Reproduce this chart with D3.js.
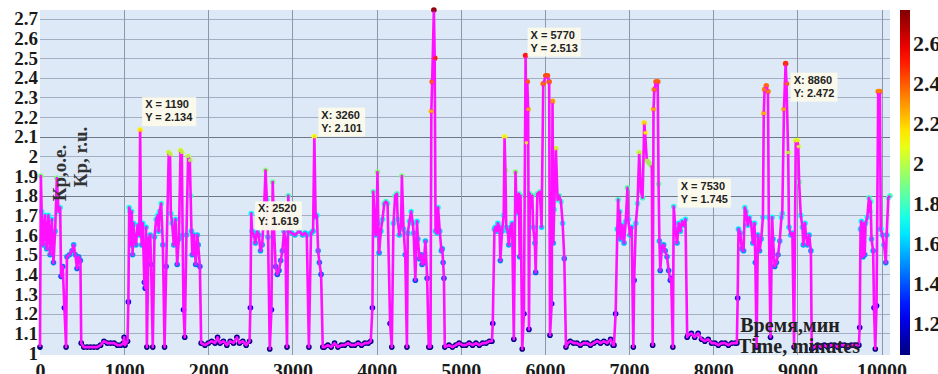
<!DOCTYPE html>
<html>
<head>
<meta charset="utf-8">
<script src="https://cdn.jsdelivr.net/npm/d3@7"></script>
<style>
  body { margin: 0; background: #fff; }
  svg text { font-family: "Liberation Serif", "Times New Roman", serif; font-weight: bold; }
  .tip text { font-family: "Liberation Sans", Arial, sans-serif; font-size: 11px; fill: #222; }
</style>
</head>
<body>
<svg id="chart" width="938" height="374"></svg>
<script>
// Kp value over time (minutes)
const TIME_MIN = [
  0, 10, 20, 40, 60, 80, 100, 120, 140, 160, 180, 200, 220, 240, 250, 270, 290, 310, 320, 350,
  380, 400, 420, 440, 460, 480, 490, 520, 560, 600, 640, 680, 720, 760, 800, 840, 880, 920, 960, 990,
  1000, 1010,
  1040, 1050, 1060, 1070, 1080, 1090, 1100, 1110, 1120, 1140, 1160, 1180, 1190, 1200, 1210, 1220,
  1240, 1250, 1260, 1270, 1290, 1310, 1320, 1340, 1360, 1380, 1400, 1410, 1420, 1440, 1460, 1480,
  1500, 1530, 1545, 1555, 1570, 1590, 1610, 1630, 1650, 1670, 1685, 1695, 1705, 1720, 1740, 1760,
  1780, 1790, 1800, 1810, 1830, 1850, 1870, 1880, 1900, 1915,
  1960, 2000, 2040, 2080, 2110, 2140, 2180, 2220, 2260, 2300, 2340, 2370, 2410, 2450, 2490,
  2500, 2510, 2520, 2540, 2560, 2580, 2600, 2620, 2640, 2660, 2680, 2695, 2710, 2730, 2750, 2765,
  2780, 2800, 2820, 2840, 2860, 2880, 2900, 2915, 2935, 2950, 2965, 2990, 3030, 3080, 3120, 3150,
  3170, 3195, 3220, 3245, 3260, 3275, 3290, 3305, 3320, 3340, 3360,
  3380, 3420, 3460, 3500, 3540, 3580, 3620, 3660, 3700, 3740, 3780, 3820, 3860, 3900, 3930,
  3950, 3960, 3980, 3990, 4000, 4010, 4020, 4030, 4050, 4070, 4090, 4110, 4130, 4160, 4180, 4200,
  4220, 4240, 4250, 4270, 4290, 4300, 4320, 4340, 4360, 4370, 4390, 4410, 4430, 4440, 4460, 4480,
  4490, 4510, 4530, 4540, 4560, 4580, 4600, 4620, 4640, 4650, 4660, 4680, 4690, 4700, 4720, 4730,
  4750, 4770, 4780, 4790, 4800, 4810,
  4860, 4900, 4940, 4980, 5020, 5060, 5100, 5140, 5180, 5220, 5260, 5300, 5340, 5370,
  5380, 5400, 5410, 5430, 5440, 5460, 5470, 5490, 5510, 5520, 5530, 5540, 5560, 5570, 5590, 5610,
  5630, 5650, 5660, 5680, 5690, 5700, 5710, 5730, 5750, 5770, 5780, 5790, 5800, 5810, 5820, 5830,
  5850, 5860, 5880, 5890, 5910, 5940, 5960, 5980, 6010, 6030, 6050, 6060, 6080, 6090, 6100, 6110,
  6130, 6150, 6170, 6190, 6210, 6230, 6250, 6270,
  6300, 6340, 6380, 6420, 6460, 6500, 6540, 6580, 6620, 6660, 6700, 6740, 6780, 6810,
  6820, 6840, 6860, 6870, 6880, 6890, 6900, 6920, 6940, 6960, 6980, 6990, 7010, 7030, 7050, 7060,
  7080, 7100, 7120, 7140, 7160, 7180, 7190, 7210, 7230, 7250, 7270, 7280, 7290, 7300, 7320, 7340,
  7350, 7360, 7370, 7390, 7410, 7430, 7450, 7470, 7490, 7500, 7520, 7530, 7550, 7570, 7590, 7610,
  7630, 7650, 7670, 7690,
  7700, 7740, 7780, 7820, 7860, 7900, 7940, 7980, 8020, 8060, 8100, 8140, 8180, 8220, 8260,
  8280, 8290, 8300, 8320, 8340, 8360, 8375, 8390, 8410, 8430, 8450, 8470, 8490, 8500, 8515, 8530,
  8550, 8570, 8590, 8600, 8610, 8630, 8650, 8660, 8680, 8700, 8710, 8730, 8750, 8770, 8790, 8810,
  8820, 8840, 8860, 8870, 8890, 8900, 8920, 8940, 8960, 8980, 9000, 9010, 9020, 9040, 9060, 9070,
  9090, 9100, 9120, 9140, 9160, 9170,
  9200, 9240, 9280, 9320, 9360, 9400, 9440, 9480, 9520, 9560, 9600, 9640, 9680, 9710,
  9730, 9740, 9750, 9760, 9770, 9780, 9790, 9800, 9810, 9830, 9850, 9860, 9870, 9880, 9900, 9910,
  9925, 9940, 9960, 9980, 9990, 10010, 10030, 10050, 10060, 10080, 10100
];
const KP_VALUE = [
  1.03, 1.90, 1.72, 1.55, 1.70, 1.53, 1.70, 1.50, 1.68, 1.46, 1.62, 1.89, 1.72, 1.74, 1.39, 1.44, 1.23, 1.03, 1.49, 1.50,
  1.52, 1.55, 1.50, 1.43, 1.49, 1.47, 1.05, 1.03, 1.03, 1.03, 1.03, 1.03, 1.04, 1.06, 1.05, 1.05, 1.05, 1.04, 1.04, 1.05,
  1.08, 1.04,
  1.06, 1.26, 1.74, 1.72, 1.55, 1.72, 1.50, 1.66, 1.60, 1.55, 1.65, 1.60, 2.134, 1.62, 1.55, 1.66,
  1.36, 1.33, 1.64, 1.03, 1.58, 1.60, 1.45, 1.03, 1.59, 1.68, 1.70, 1.62, 1.72, 1.76, 1.55, 1.03,
  1.44, 2.02, 2.01, 1.71, 1.66, 1.55, 1.68, 1.45, 1.58, 2.03, 2.02, 1.60, 1.22, 1.08, 1.60, 2.00,
  1.98, 1.80, 1.62, 1.50, 1.60, 1.45, 1.60, 1.55, 1.44, 1.05,
  1.04, 1.05, 1.06, 1.05, 1.08, 1.05, 1.06, 1.04, 1.06, 1.05, 1.08, 1.05, 1.06, 1.04, 1.06,
  1.23, 1.71, 1.619, 1.60, 1.56, 1.62, 1.60, 1.52, 1.55, 1.70, 1.93, 1.78, 1.59, 1.02, 1.22, 1.87,
  1.64, 1.44, 1.40, 1.42, 1.47, 1.52, 1.62, 1.58, 1.03, 1.80, 1.62, 1.61, 1.60, 1.62, 1.60, 1.61,
  1.60, 1.03, 1.61, 1.62, 2.101, 1.69, 1.70, 1.52, 1.46, 1.40, 1.03,
  1.03, 1.04, 1.03, 1.05, 1.03, 1.04, 1.04, 1.05, 1.04, 1.04, 1.05, 1.04, 1.05, 1.05, 1.06,
  1.23, 1.82, 1.66, 1.60, 1.68, 1.92, 1.66, 1.51, 1.62, 1.68, 1.76, 1.77, 1.76, 1.15, 1.03, 1.66,
  1.80, 1.81, 1.68, 1.60, 1.65, 1.90, 1.63, 1.50, 1.03, 1.61, 1.67, 1.72, 1.66, 1.61, 1.37, 1.67,
  1.58, 1.48, 1.50, 1.45, 1.46, 1.57, 1.38, 1.03, 1.03, 2.23, 2.38, 2.745, 2.50, 1.62, 1.61, 1.74,
  1.62, 1.52, 1.53, 1.46, 1.38, 1.03,
  1.04, 1.03, 1.04, 1.05, 1.04, 1.04, 1.05, 1.04, 1.05, 1.04, 1.05, 1.05, 1.06, 1.06,
  1.15, 1.63, 1.64, 1.62, 1.66, 1.64, 1.47, 1.62, 1.70, 2.10, 1.93, 1.64, 1.62, 1.55, 1.64, 1.66,
  1.07, 1.92, 1.78, 1.71, 1.81, 1.49, 1.80, 1.02, 1.20, 2.513, 2.07, 2.38, 2.24, 1.12, 1.81, 1.74,
  1.80, 1.64, 1.56, 1.41, 1.81, 1.82, 1.64, 2.37, 2.41, 2.41, 2.38, 1.09, 1.25, 2.28, 1.56, 1.73,
  2.04, 1.78, 1.80, 1.77, 1.66, 1.48, 1.03, 1.05,
  1.06, 1.05, 1.05, 1.04, 1.05, 1.05, 1.04, 1.05, 1.06, 1.05, 1.06, 1.05, 1.07, 1.04,
  1.04, 1.20, 1.63, 1.78, 1.60, 1.72, 1.58, 1.65, 1.56, 1.67, 1.84, 1.68, 1.60, 1.64, 1.03, 1.37,
  1.66, 1.76, 2.02, 1.82, 1.79, 2.17, 2.12, 1.98, 1.97, 1.96, 1.95, 1.04, 2.24, 2.34, 2.38, 2.38,
  1.86, 1.57, 1.42, 1.54, 1.55, 1.52, 1.49, 1.42, 1.37, 1.38, 1.03, 1.745, 1.63, 1.56, 1.66, 1.62,
  1.67, 1.65, 1.68, 1.08,
  1.09, 1.10, 1.08, 1.10, 1.07, 1.06, 1.07, 1.05, 1.05, 1.04, 1.05, 1.05, 1.04, 1.05, 1.05,
  1.05, 1.28, 1.63, 1.61, 1.53, 1.52, 1.74, 1.72, 1.65, 1.69, 1.66, 1.56, 1.66, 1.46, 1.03, 1.60,
  1.52, 1.58, 1.69, 2.22, 2.34, 2.36, 2.33, 1.69, 1.08, 1.69, 1.58, 1.44, 1.46, 1.50, 1.57, 1.69,
  1.71, 2.24, 2.472, 2.37, 2.02, 1.64, 1.60, 1.61, 1.03, 2.08, 2.08, 2.05, 1.87, 1.70, 1.64, 1.55,
  1.66, 1.60, 1.55, 1.60, 1.52, 1.02,
  1.03, 1.04, 1.03, 1.04, 1.03, 1.04, 1.04, 1.03, 1.04, 1.04, 1.03, 1.04, 1.04, 1.04,
  1.04, 1.13, 1.63, 1.67, 1.53, 1.49, 1.66, 1.50, 1.66, 1.69, 1.79, 1.72, 1.77, 1.58, 1.52, 1.23,
  1.02, 1.24, 2.33, 2.33, 1.63, 1.60, 1.55, 1.46, 1.60, 1.79, 1.80
];

// data tips shown on the chart
const TIP_X = [1190, 2520, 3260, 5770, 7530, 8860];
const TIP_Y = [2.134, 1.619, 2.101, 2.513, 1.745, 2.472];
const TIP_SEP = [' = ', ': ', ': ', ' = ', ' = ', ': '];
const TIP_OFFSET = [[2, -33], [3, -30], [4, -29], [2, -28], [4, -28], [5, 9]];

const X_TICKS = d3.range(0, 10001, 1000);
const Y_TICKS = d3.range(10, 28).map(i => i / 10);
const CBAR_TICKS = [1.2, 1.4, 1.6, 1.8, 2, 2.2, 2.4, 2.6];

const PLOT = { left: 40, right: 890, top: 10, bottom: 355 };

const svg = d3.select('#chart');

const x = d3.scaleLinear().domain([0, 10100]).range([PLOT.left, PLOT.right]);
const y = d3.scaleLinear().domain([1, 2.745]).range([353, PLOT.top]);

// MATLAB-style jet
function jet(t) {
  const c = v => Math.round(255 * Math.max(0, Math.min(1, v)));
  return `rgb(${c(1.5 - Math.abs(4 * t - 3))},${c(1.5 - Math.abs(4 * t - 2))},${c(1.5 - Math.abs(4 * t - 1))})`;
}
const cDomain = [1.04, 2.765];
const colorOf = v => jet((v - cDomain[0]) / (cDomain[1] - cDomain[0]));

// background + grid
svg.append('rect')
  .attr('x', PLOT.left).attr('y', PLOT.top)
  .attr('width', PLOT.right - PLOT.left).attr('height', PLOT.bottom - PLOT.top)
  .attr('fill', '#dde9f7');

const grid = svg.append('g');
grid.selectAll('.hg').data(Y_TICKS.filter(d => d > 1)).join('line')
  .attr('x1', PLOT.left).attr('x2', PLOT.right)
  .attr('y1', d => Math.round(y(d)) + 0.5).attr('y2', d => Math.round(y(d)) + 0.5)
  .attr('stroke', d => (d === 2.1 || d === 1.8) ? '#6e7888' : '#a3afc0')
  .attr('stroke-width', 1);
grid.selectAll('.vg').data(X_TICKS.filter(d => d > 0)).join('line')
  .attr('x1', d => Math.round(x(d)) + 0.5).attr('x2', d => Math.round(x(d)) + 0.5)
  .attr('y1', PLOT.top).attr('y2', PLOT.bottom)
  .attr('stroke', '#8d97a8').attr('stroke-width', 1);

// series: jet-coloured markers under a magenta line
const pts = TIME_MIN.map((t, i) => ({ t, v: KP_VALUE[i] }));

svg.append('g').selectAll('circle').data(pts).join('circle')
  .attr('cx', d => x(d.t)).attr('cy', d => y(d.v))
  .attr('r', 2.8)
  .attr('fill', d => colorOf(d.v));

svg.append('path').datum(pts)
  .attr('fill', 'none')
  .attr('stroke', '#ff10ff')
  .attr('stroke-width', 2.6)
  .attr('stroke-linejoin', 'round')
  .attr('d', d3.line().x(d => x(d.t)).y(d => y(d.v)));

svg.append('g').selectAll('circle').data(pts.filter(d => d.v > 1.95)).join('circle')
  .attr('cx', d => x(d.t)).attr('cy', d => y(d.v))
  .attr('r', 1.8)
  .attr('fill', d => colorOf(d.v))
  .attr('opacity', 0.85);

// axes
const yAxis = svg.append('g')
  .attr('transform', `translate(${PLOT.left},0)`)
  .call(d3.axisLeft(y).tickValues(Y_TICKS).tickSize(0).tickPadding(2).tickFormat(d => String(+d.toFixed(1))));
const xAxis = svg.append('g')
  .attr('transform', `translate(0,353)`)
  .call(d3.axisBottom(x).tickValues(X_TICKS).tickSize(0).tickPadding(11).tickFormat(d3.format('d')));
xAxis.select('.domain').remove();
xAxis.selectAll('text').style('font-size', '20px').style('fill', '#1a1a1a');
yAxis.select('.domain').remove();
yAxis.selectAll('text').style('font-size', '19px').style('fill', '#1a1a1a');

// axis titles
svg.append('text')
  .attr('transform', 'translate(66,173) rotate(-90)')
  .attr('text-anchor', 'middle')
  .style('font-size', '19px').style('fill', '#333')
  .text('Кр,о.е.');
svg.append('text')
  .attr('transform', 'translate(87,157) rotate(-90)')
  .attr('text-anchor', 'middle')
  .style('font-size', '19px').style('fill', '#333')
  .text('Кр, r.u.');
svg.append('text')
  .attr('x', 790).attr('y', 332)
  .attr('text-anchor', 'middle')
  .style('font-size', '20px').style('fill', '#222')
  .text('Время,мин');
svg.append('text')
  .attr('x', 799).attr('y', 353)
  .attr('text-anchor', 'middle')
  .style('font-size', '20px').style('fill', '#222')
  .text('Time, minutes');

// data tips
const tips = svg.append('g').attr('class', 'tip');
TIP_X.forEach((tx, i) => {
  const px = x(tx) + TIP_OFFSET[i][0];
  const py = y(TIP_Y[i]) + TIP_OFFSET[i][1];
  const g = tips.append('g').attr('transform', `translate(${px},${py})`);
  const rect = g.append('rect').attr('fill', '#fbfaea').attr('opacity', 0.95);
  g.append('text').attr('x', 3).attr('y', 11).text('X' + TIP_SEP[i] + tx);
  g.append('text').attr('x', 3).attr('y', 24).text('Y' + TIP_SEP[i] + TIP_Y[i].toFixed(3));
  const bb = g.node().getBBox();
  rect.attr('x', 0).attr('y', 0).attr('width', bb.width + 6).attr('height', 29);
});

// colorbar
const cbar = { x: 900, w: 10, top: 10, bottom: 355 };
const cy = d3.scaleLinear().domain(cDomain).range([cbar.bottom, cbar.top]);
const grad = svg.append('defs').append('linearGradient')
  .attr('id', 'jet').attr('x1', 0).attr('y1', 1).attr('x2', 0).attr('y2', 0);
d3.range(0, 1.0001, 0.05).forEach(t => {
  grad.append('stop').attr('offset', t).attr('stop-color', jet(t));
});
svg.append('rect')
  .attr('x', cbar.x).attr('y', cbar.top)
  .attr('width', cbar.w).attr('height', cbar.bottom - cbar.top)
  .attr('fill', 'url(#jet)');
const cAxis = svg.append('g')
  .attr('transform', `translate(${cbar.x + cbar.w},0)`)
  .call(d3.axisRight(cy).tickValues(CBAR_TICKS).tickSize(0).tickPadding(3).tickFormat(d => String(d)));
cAxis.select('.domain').remove();
cAxis.selectAll('text').style('font-size', '22px').style('fill', '#1a1a1a');
</script>
</body>
</html>
